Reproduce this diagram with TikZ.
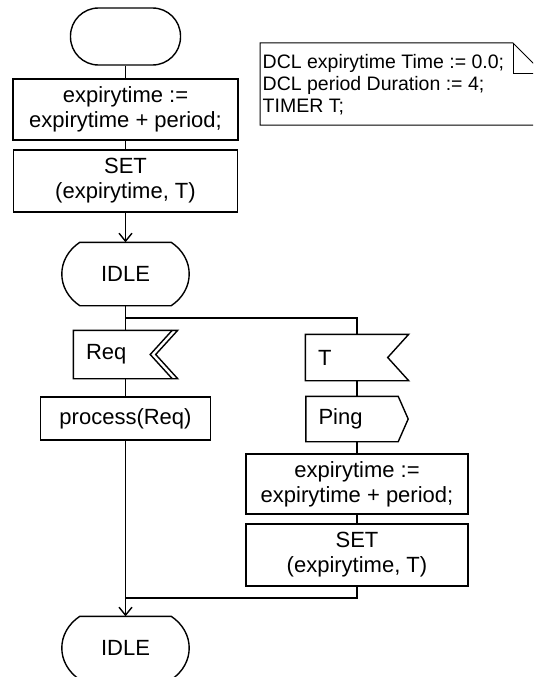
\documentclass[tikz,border=0pt]{standalone}
\usepackage{fontspec}
\setmainfont{Liberation Sans}
\usepackage{tikz}
\usetikzlibrary{arrows.meta}

\begin{document}
\begin{tikzpicture}[x=1pt,y=-1pt,line width=1.4pt,
    >={Straight Barb[length=8pt,width=13pt]}]

        \useasboundingbox (0,0) rectangle (533,677);
        \clip (0,0) rectangle (533,677);

        % task boxes
        \begin{scope}[every node/.style={draw, inner sep=0pt, align=center,
            font=\fontsize{22}{25}\selectfont}]
          \node[rounded corners=28pt, minimum width=110pt, minimum height=57pt] (start) at (125.5,36.5) {};
          \node[minimum width=225pt, minimum height=61pt] (upd1) at (125.5,109.5) {expirytime :=\\expirytime + period;};
          \node[minimum width=224pt, minimum height=62pt] (set1) at (125.5,181) {SET\\(expirytime, T)};
          \node[minimum width=170pt, minimum height=43pt] (proc) at (125.5,418.5) {process(Req)};
          \node[minimum width=222pt, minimum height=60pt] (upd2) at (357,484) {expirytime :=\\expirytime + period;};
          \node[minimum width=222pt, minimum height=62pt] (set2) at (357,555) {SET\\(expirytime, T)};
        \end{scope}

        % states
        \begin{scope}[every node/.style={inner sep=0pt, minimum width=90pt, minimum height=62pt,
            font=\fontsize{22}{25}\selectfont}]
          \node (idle1) at (125.5,274) {IDLE};
          \node (idle2) at (125.5,648) {IDLE};
        \end{scope}
        \draw (idle1.north west) -- (idle1.north east)
          .. controls +(24,16) and +(24,-16) .. (idle1.south east) -- (idle1.south west)
          .. controls +(-24,-16) and +(-24,16) .. (idle1.north west) -- cycle;
        \draw (idle2.north west) -- (idle2.north east)
          .. controls +(24,16) and +(24,-16) .. (idle2.south east) -- (idle2.south west)
          .. controls +(-24,-16) and +(-24,16) .. (idle2.north west) -- cycle;

        % signals
        \begin{scope}[every node/.style={inner xsep=12pt, inner ysep=0pt, align=left,
            font=\fontsize{22}{25}\selectfont}]
          \node[text width=79pt, minimum height=47pt] (req) at (125.5,354.5) {Req};
          \node[text width=78pt, minimum height=45pt] (tsig) at (357,357.5) {T};
          \node[text width=77pt, minimum height=44pt] (ping) at (357,419) {Ping};
        \end{scope}
        \draw (req.north west) -- (req.north east) -- ([xshift=-22pt]req.east)
          -- (req.south east) -- (req.south west) -- cycle;
        \draw ([xshift=-5.5pt]req.north east) -- ([xshift=-27.5pt]req.east) -- ([xshift=-5.5pt]req.south east);
        \draw (tsig.north west) -- (tsig.north east) -- ([xshift=-21pt]tsig.east)
          -- (tsig.south east) -- (tsig.south west) -- cycle;
        \draw (ping.north west) -- ([xshift=-10pt]ping.north east) -- (ping.east)
          -- ([xshift=-10pt]ping.south east) -- (ping.south west) -- cycle;

        % declarations
        \node[anchor=west, inner sep=0pt, align=left, font=\fontsize{19.5}{21.7}\selectfont]
          (decl) at (262,84.5) {DCL expirytime Time := 0.0;\\DCL period Duration := 4;\\TIMER T;};
        \draw[line width=1pt] (260,43) -- (513,43) -- (543,73) -- (543,125) -- (260,125) -- cycle;
        \draw[line width=1pt] (513,43) -- (513,73) -- (543,73);

        % flow lines
        \coordinate (fork) at (125.5,318);
        \coordinate (join) at (125.5,598);
        \begin{scope}[every edge/.style={draw}]
          \path (start) edge (upd1);
          \path (upd1) edge (set1);
          \path (set1) edge[->] (idle1);
          \path (idle1) edge (req);
          \path (req) edge (proc);
          \path (proc) edge[->] (idle2);
          \path (tsig) edge (ping);
          \path (ping) edge (upd2);
          \path (upd2) edge (set2);
        \end{scope}
        \draw (fork) -| (tsig.north);
        \draw (set2.south) |- (join);

      \end{tikzpicture}
\end{document}
